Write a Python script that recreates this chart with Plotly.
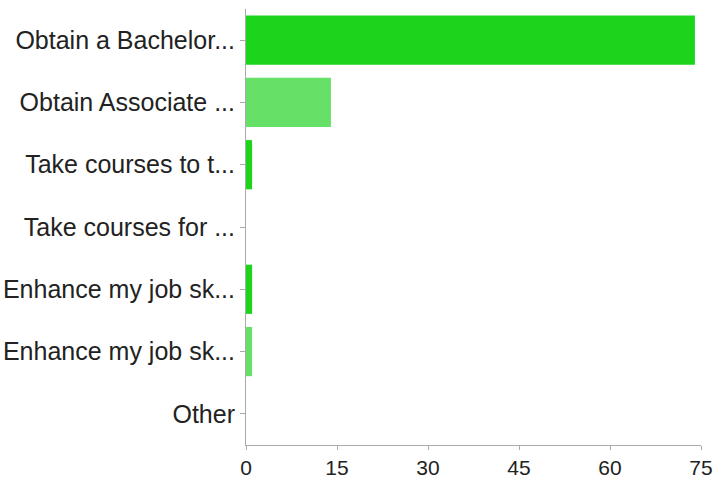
import plotly.graph_objects as go

categories = [
    "Obtain a Bachelor...",
    "Obtain Associate ...",
    "Take courses to t...",
    "Take courses for ...",
    "Enhance my job sk...",
    "Enhance my job sk...",
    "Other",
]
values = [74, 14, 1, 0, 1, 1, 0]
colors = ["#1cd41c", "#66e066", "#1cd41c", "#66e066", "#1cd41c", "#66e066", "#1cd41c"]
x_ticks = [0, 15, 30, 45, 60, 75]

# use unique keys for categories (two labels repeat)
keys = [f"c{i}" for i in range(len(categories))]

fig = go.Figure(
    go.Bar(
        x=values,
        y=keys,
        orientation="h",
        marker=dict(color=colors, line=dict(width=0)),
        hoverinfo="x",
    )
)

fig.update_layout(
    width=717,
    height=479,
    margin=dict(l=246, r=16, t=9, b=34),
    plot_bgcolor="white",
    paper_bgcolor="white",
    bargap=0.21,
    showlegend=False,
    font=dict(family="Liberation Sans, Arial, sans-serif", size=21, color="#222222"),
)

fig.update_xaxes(
    range=[0, 75],
    tickvals=x_ticks,
    ticktext=[str(v) for v in x_ticks],
    showgrid=False,
    zeroline=False,
    showline=True,
    linecolor="#aaaaaa",
    linewidth=1,
    ticks="outside",
    ticklen=4,
    tickcolor="#aaaaaa",
    tickfont=dict(size=21),
    automargin=False,
)

fig.update_yaxes(
    categoryorder="array",
    categoryarray=keys[::-1],
    tickvals=keys,
    ticktext=categories,
    showgrid=False,
    zeroline=False,
    showline=True,
    linecolor="#aaaaaa",
    linewidth=1,
    ticks="outside",
    ticklen=5,
    tickcolor="#aaaaaa",
    tickfont=dict(size=25),
    automargin=False,
)

# remove the default page margin so the figure fills the window exactly
fig.write_html(
    "out.html",
    config={"displayModeBar": False},
    post_script="document.body.style.margin='0';document.body.style.overflow='hidden';",
)
